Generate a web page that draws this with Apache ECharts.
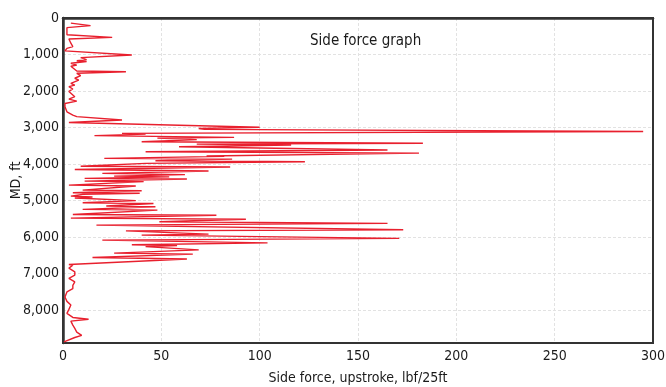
<!DOCTYPE html>
<html>
<head>
<meta charset="utf-8">
<script src="https://cdn.jsdelivr.net/npm/echarts@6/dist/echarts.min.js"></script>
<style>
html, body { margin: 0; padding: 0; background: #fff; }
#chart { width: 666px; height: 387px; }
</style>
</head>
<body>
<div id="chart"></div>
<script>
var FONT = "'Liberation Sans Narrow', 'DejaVu Sans Condensed', 'Roboto', sans-serif";

// measured depth, ft
var depthFt = [
  140, 210, 265, 460, 530, 575, 620, 690, 785, 830, 900, 1015, 1085, 1140, 1170, 1190,
  1240, 1290, 1320, 1450, 1470, 1515, 1580, 1650, 1700, 1790, 1840, 1880, 1945, 2010,
  2155, 2220, 2275, 2340, 2430, 2570, 2660, 2700, 2795, 2860, 2914,
  2990, 3025, 3050, 3110, 3160, 3180, 3220, 3270, 3290, 3330, 3390, 3430, 3455, 3480,
  3525, 3615, 3663, 3700, 3780, 3790, 3845, 3865, 3909, 3937, 3982, 4060, 4080, 4150,
  4190, 4256, 4290, 4329, 4350, 4393, 4410, 4466, 4480, 4576, 4600, 4713, 4730, 4786,
  4800, 4830, 4877, 4900, 4930, 5000, 5060, 5080, 5150, 5170, 5240, 5260, 5380, 5400,
  5480, 5510, 5580, 5625, 5672, 5800, 5830, 5918, 5946, 6036, 6083, 6157, 6210, 6230,
  6260, 6350, 6440, 6466, 6560, 6600, 6750,
  6770, 6850, 6950, 7040, 7130, 7225, 7320, 7410, 7500, 7640, 7760, 7860, 7980, 8090,
  8200, 8250, 8300, 8410, 8500, 8600, 8690, 8750, 8870
];

// side force, upstroke, lbf/25ft
var sideForce = [
  4, 14, 2, 2, 25, 3, 2, 4, 5, 2, 1, 35, 9, 12, 7, 12,
  4, 7, 4, 7, 32, 7, 9, 6, 8, 4, 6, 3, 5, 3,
  6, 3, 7, 1, 1, 2, 5, 7, 30, 3, 4,
  100, 69, 72, 295, 30, 42, 16, 87, 48, 68, 40, 183, 68, 116,
  59, 165, 42, 181, 73, 82, 21, 86, 47, 123, 42, 9, 85, 6,
  74, 20, 62, 26, 54, 11, 63, 11, 41, 3, 37, 10, 40, 5,
  39, 10, 4, 15, 6, 37, 10, 46, 22, 47, 10, 48, 5, 78,
  4, 93, 49, 165, 17, 173, 32, 74, 40, 171, 20, 104, 35, 58,
  42, 69, 26, 66, 15, 63, 3,
  5, 3, 6, 6, 3, 6, 5, 5, 2, 1, 2, 4, 3, 2,
  5, 13, 4, 5, 6, 7, 9.5, 6, 0.5
];

var forceTicks = [0, 50, 100, 150, 200, 250, 300];
var depthTicks = [0, 1000, 2000, 3000, 4000, 5000, 6000, 7000, 8000];

var points = depthFt.map(function (d, i) { return [sideForce[i], d]; });

function fmt(v) {
  return String(v).replace(/\B(?=(\d{3})+(?!\d))/g, ',');
}

var gridLine = {
  showMinLine: false,
  showMaxLine: false,
  lineStyle: { color: '#e2e2e2', type: [3, 2], width: 1 }
};

var option = {
  animation: false,
  title: {
    text: 'Side force graph',
    left: 305,
    top: 29,
    textStyle: { fontFamily: FONT, fontSize: 15, fontWeight: 500, color: '#1a1a1a' }
  },
  grid: {
    left: 63,
    right: 13,
    top: 18,
    bottom: 44,
    outerBoundsMode: 'none',
    containLabel: false,
    show: true,
    borderColor: '#333',
    borderWidth: 2
  },
  xAxis: {
    type: 'value',
    min: forceTicks[0],
    max: forceTicks[forceTicks.length - 1],
    interval: 50,
    name: 'Side force, upstroke, lbf/25ft',
    nameLocation: 'middle',
    nameMoveOverlap: false,
    nameGap: 28,
    nameTextStyle: { fontFamily: FONT, fontSize: 14, fontWeight: 500, color: '#1a1a1a' },
    axisLine: { lineStyle: { color: '#333', width: 2.5 } },
    axisTick: { show: false },
    axisLabel: { fontFamily: FONT, fontSize: 14, fontWeight: 500, color: '#1a1a1a', margin: 6 },
    splitLine: gridLine
  },
  yAxis: {
    type: 'value',
    inverse: true,
    min: 0,
    max: 8900,
    interval: 1000,
    name: 'MD, ft',
    nameLocation: 'middle',
    nameMoveOverlap: false,
    nameGap: 40,
    nameTextStyle: { fontFamily: FONT, fontSize: 14, fontWeight: 500, color: '#1a1a1a' },
    axisLine: { lineStyle: { color: '#333', width: 2.5 } },
    axisTick: { show: false },
    axisLabel: {
      fontFamily: FONT, fontSize: 14, fontWeight: 500, color: '#1a1a1a', margin: 4,
      formatter: function (v) { return depthTicks.indexOf(v) >= 0 ? fmt(v) : ''; }
    },
    splitLine: gridLine
  },
  series: [
    {
      type: 'line',
      data: points,
      showSymbol: false,
      lineStyle: { color: '#e8202e', width: 1.4 }
    }
  ]
};

var chart = echarts.init(document.getElementById('chart'));
chart.setOption(option);
</script>
</body>
</html>
